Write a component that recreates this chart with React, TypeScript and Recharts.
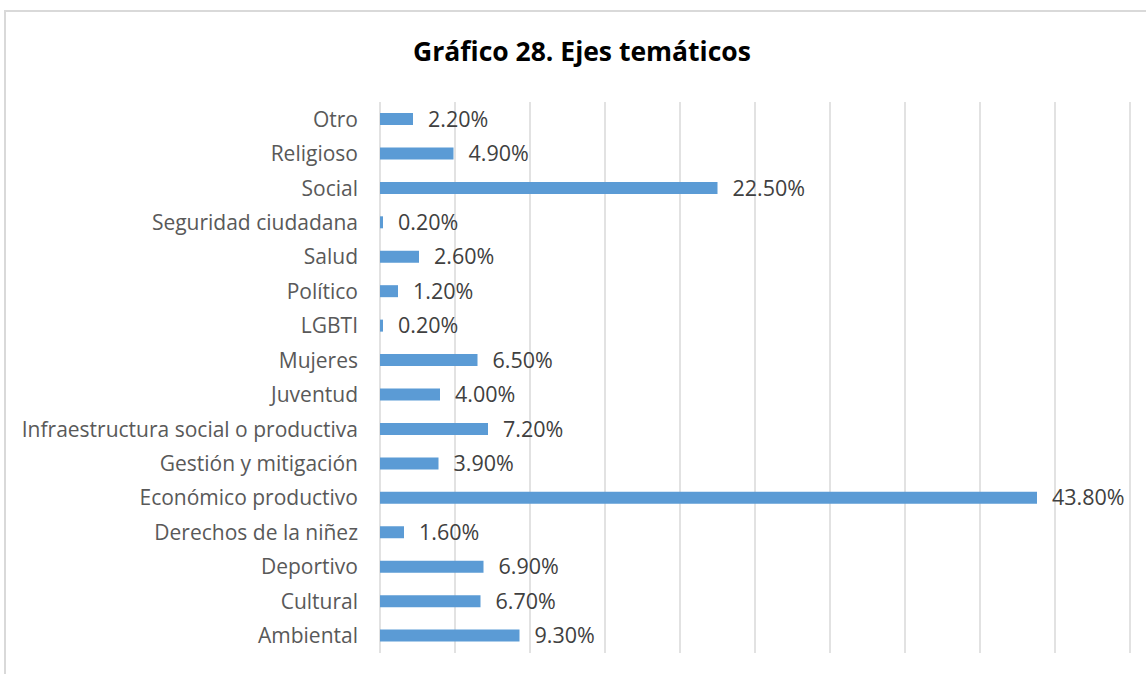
import { BarChart, Bar, XAxis, YAxis, CartesianGrid, LabelList } from 'recharts';

const categories = [
  'Otro',
  'Religioso',
  'Social',
  'Seguridad ciudadana',
  'Salud',
  'Político',
  'LGBTI',
  'Mujeres',
  'Juventud',
  'Infraestructura social o productiva',
  'Gestión y mitigación',
  'Económico productivo',
  'Derechos de la niñez',
  'Deportivo',
  'Cultural',
  'Ambiental',
];
const percentages = [2.2, 4.9, 22.5, 0.2, 2.6, 1.2, 0.2, 6.5, 4.0, 7.2, 3.9, 43.8, 1.6, 6.9, 6.7, 9.3];
const xTicks = [0, 5, 10, 15, 20, 25, 30, 35, 40, 45, 50];

const data = categories.map((name, i) => ({ name, value: percentages[i] }));

const FONT = '"Open Sans", Lato, sans-serif';

const App = () => {
  return (
    <div style={{ position: 'fixed', left: 0, top: 0, width: 1146, height: 674, overflow: 'hidden', background: '#fff' }}>
      <div style={{ position: 'absolute', left: 4, top: 10, width: 1200, height: 700, border: '2px solid #d9d9d9', boxSizing: 'border-box' }} />
      <div style={{ position: 'absolute', left: 0, width: 1164, top: 33, textAlign: 'center', fontFamily: FONT, fontWeight: 700, fontSize: 26.5, color: '#000' }}>
        Gráfico 28. Ejes temáticos
      </div>
      <div style={{ position: 'absolute', left: 0, top: 0 }}>
        <BarChart
          width={1146}
          height={674}
          data={data}
          layout="vertical"
          margin={{ top: 102, right: 16, bottom: 21, left: 0 }}
          barSize={12}
        >
          <CartesianGrid horizontal={false} stroke="#d9d9d9" strokeWidth={1.5} />
          <XAxis type="number" domain={[0, 50]} ticks={xTicks} hide />
          <YAxis
            type="category"
            dataKey="name"
            width={380}
            axisLine={false}
            tickLine={false}
            tickSize={0}
            tickMargin={22}
            interval={0}
            tick={{ fill: '#595959', fontSize: 21, fontFamily: FONT }}
          />
          <Bar dataKey="value" fill="#5b9bd5" isAnimationActive={false}>
            <LabelList
              dataKey="value"
              position="right"
              offset={15}
              fill="#404040"
              fontSize={21.5}
              fontFamily={FONT}
              formatter={(v: number) => `${v.toFixed(2)}%`}
            />
          </Bar>
        </BarChart>
      </div>
    </div>
  );
};

export default App;
